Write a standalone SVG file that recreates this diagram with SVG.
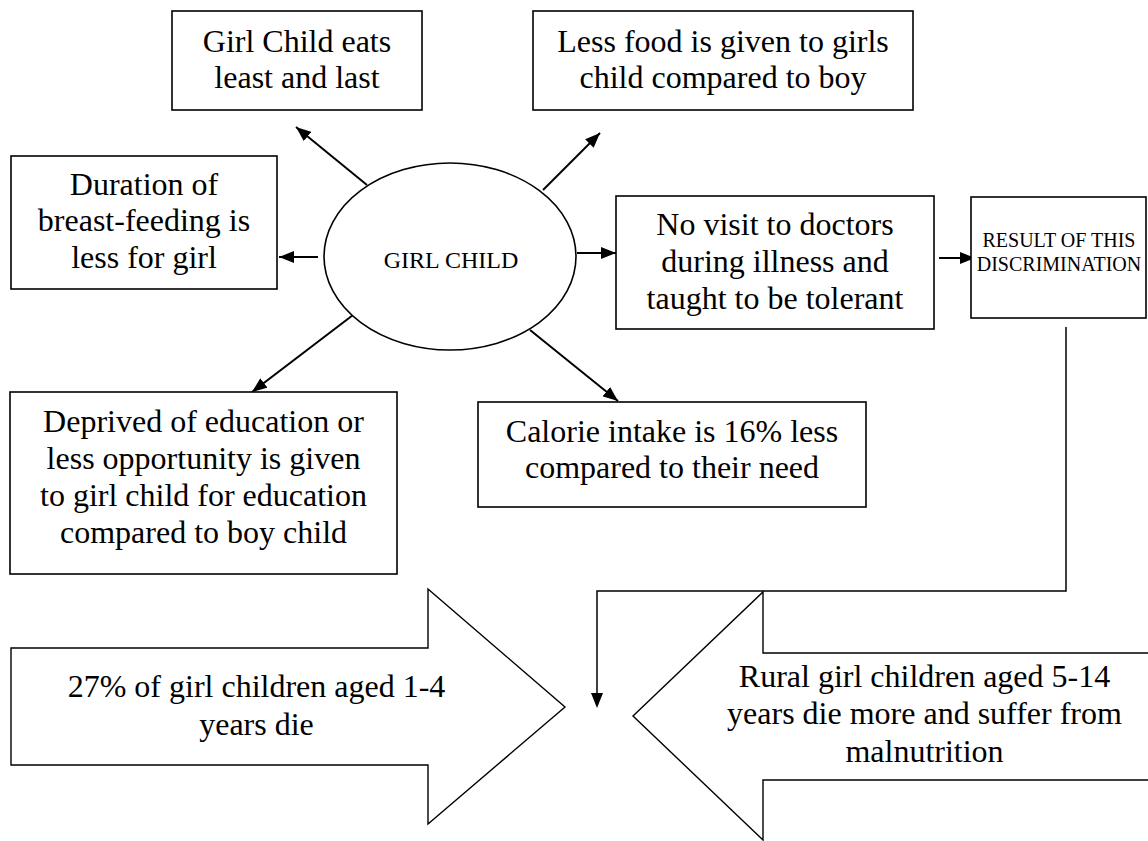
<svg xmlns="http://www.w3.org/2000/svg" width="1148" height="841" viewBox="0 0 1148 841" font-family="'Liberation Serif', 'Times New Roman', serif">
<defs>
<style>
.box{fill:#fff;stroke:#000;stroke-width:1.6}
.t{font-family:"Liberation Serif","Times New Roman",serif;font-size:32px;fill:#000;text-anchor:middle}
.s{font-family:"Liberation Serif","Times New Roman",serif;font-size:20px;fill:#000;text-anchor:middle}
.c{stroke:#000;stroke-width:2;fill:none}
.blk{fill:#fff;stroke:#000;stroke-width:1.4}
</style>
<marker id="ah" markerUnits="userSpaceOnUse" markerWidth="15" markerHeight="12" refX="15" refY="6" orient="auto">
<path d="M0,0 L15,6 L0,12 z" fill="#000"/>
</marker>
</defs>
<rect width="1148" height="841" fill="#fff"/>
<g id="connectors">
<line class="c" x1="367" y1="185" x2="296" y2="127" marker-end="url(#ah)"/>
<line class="c" x1="543" y1="190" x2="600" y2="133" marker-end="url(#ah)"/>
<line class="c" x1="318" y1="257" x2="279" y2="257" marker-end="url(#ah)"/>
<line class="c" x1="577" y1="253" x2="616" y2="253" marker-end="url(#ah)"/>
<line class="c" x1="353" y1="315" x2="252" y2="392" marker-end="url(#ah)"/>
<line class="c" x1="530" y1="330" x2="618" y2="401" marker-end="url(#ah)"/>
<line class="c" x1="939" y1="258" x2="975" y2="258" marker-end="url(#ah)"/>
<polyline fill="none" stroke="#000" stroke-width="1.5" points="1066,327 1066,591 597,591 597,694"/>
<path d="M591,693 L603,693 L597,708 z" fill="#000"/>
</g>
<g id="node-eats">
<rect class="box" x="172" y="11" width="250" height="99"/>
<text class="t" x="297" y="52">Girl Child eats</text>
<text class="t" x="297" y="88">least and last</text>
</g>
<g id="node-food">
<rect class="box" x="533" y="11" width="380" height="99"/>
<text class="t" x="723" y="52">Less food is given to girls</text>
<text class="t" x="723" y="88">child compared to boy</text>
</g>
<g id="node-breast">
<rect class="box" x="11" y="156" width="266" height="133"/>
<text class="t" x="144" y="195">Duration of</text>
<text class="t" x="144" y="231">breast-feeding is</text>
<text class="t" x="144" y="268">less for girl</text>
</g>
<g id="node-girl">
<ellipse cx="450" cy="256.5" rx="126" ry="93.5" fill="#fff" stroke="#000" stroke-width="1.6"/>
<text x="451" y="268" font-size="24" text-anchor="middle">GIRL CHILD</text>
</g>
<g id="node-doctor">
<rect class="box" x="616" y="196" width="318" height="133"/>
<text class="t" x="775" y="235">No visit to doctors</text>
<text class="t" x="775" y="272">during illness and</text>
<text class="t" x="775" y="309">taught to be tolerant</text>
</g>
<g id="node-result">
<rect class="box" x="971" y="197" width="175" height="121"/>
<text class="s" x="1059" y="247">RESULT OF THIS</text>
<text class="s" x="1059" y="271">DISCRIMINATION</text>
</g>
<g id="node-education">
<rect class="box" x="10" y="392" width="387" height="182"/>
<text class="t" x="203.5" y="432">Deprived of education or</text>
<text class="t" x="203.5" y="469">less opportunity is given</text>
<text class="t" x="203.5" y="506">to girl child for education</text>
<text class="t" x="203.5" y="543">compared to boy child</text>
</g>
<g id="node-calorie">
<rect class="box" x="478" y="402" width="388" height="105"/>
<text class="t" x="672" y="442">Calorie intake is 16% less</text>
<text class="t" x="672" y="478">compared to their need</text>
</g>
<g id="node-die14">
<path class="blk" d="M11,648 L428,648 L428,589 L565,707 L428,824 L428,765 L11,765 z"/>
<text class="t" x="256.5" y="697">27% of girl children aged 1-4</text>
<text class="t" x="256.5" y="735">years die</text>
</g>
<g id="node-rural">
<path class="blk" d="M1160,653 L763,653 L763,592 L633,716 L763,840 L763,780 L1160,780"/>
<text class="t" x="924.5" y="687">Rural girl children aged 5-14</text>
<text class="t" x="924.5" y="724">years die more and suffer from</text>
<text class="t" x="924.5" y="762">malnutrition</text>
</g>
</svg>
